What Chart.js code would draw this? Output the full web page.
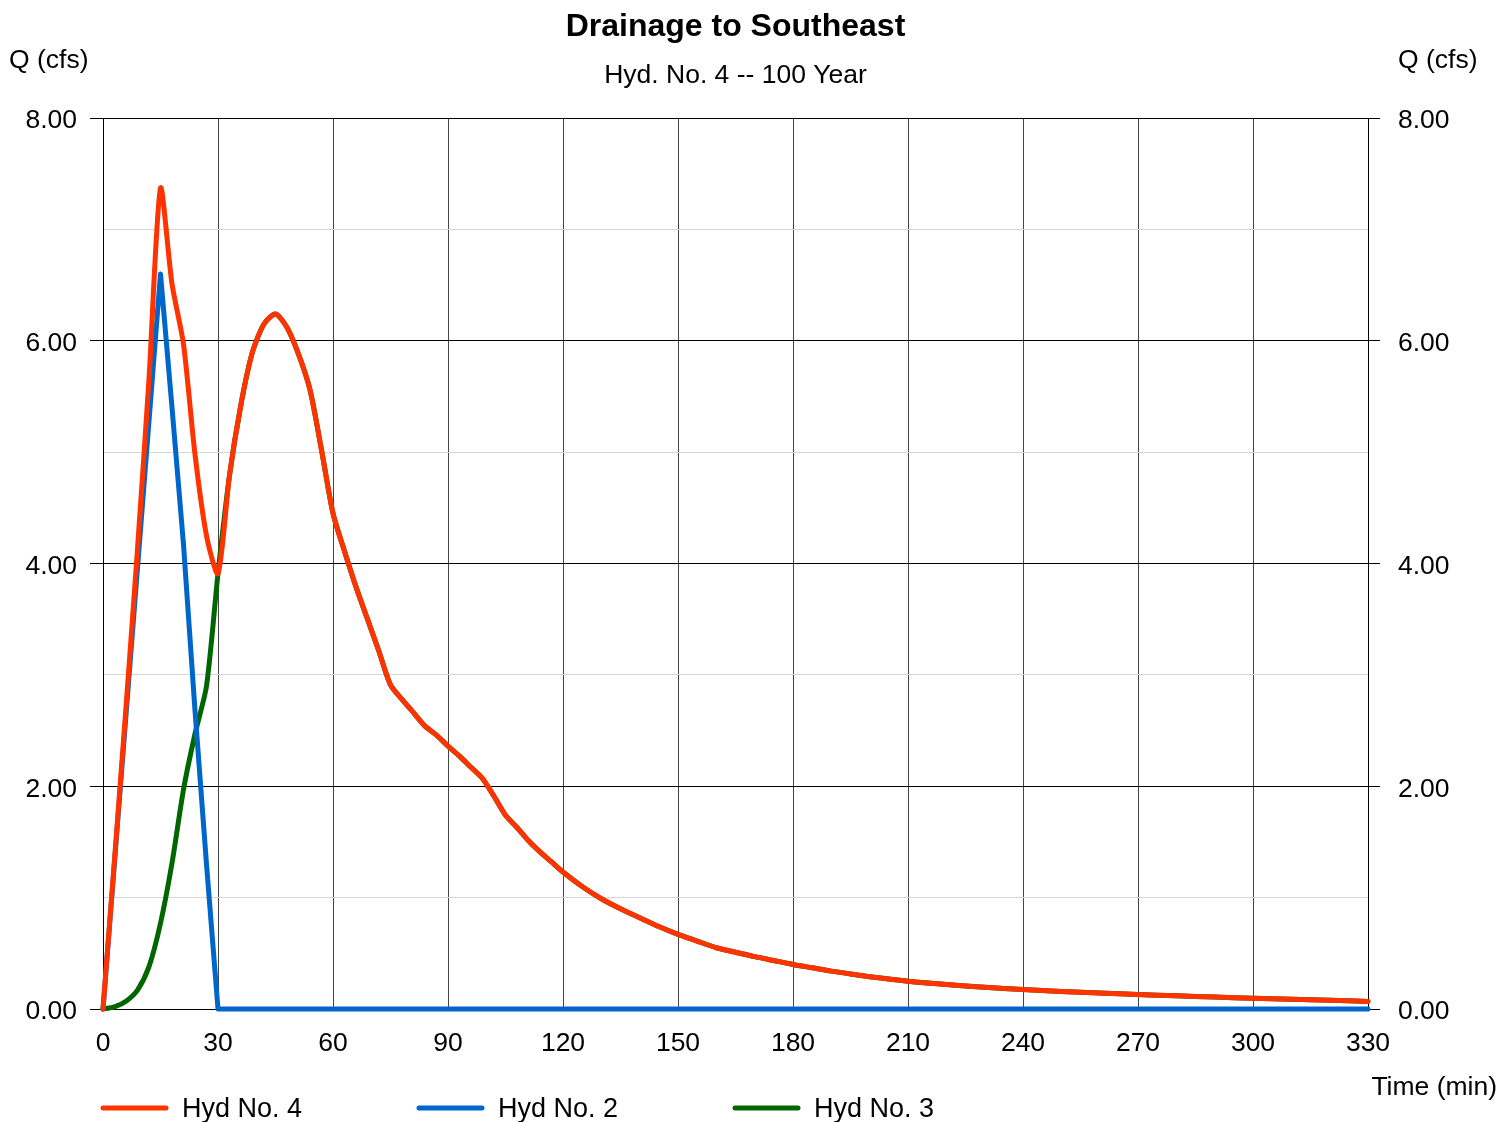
<!DOCTYPE html>
<html>
<head>
<meta charset="utf-8">
<title>Drainage to Southeast</title>
<script src="https://cdn.jsdelivr.net/npm/chart.js@4"></script>
<style>
  html, body { margin: 0; padding: 0; background: #fff; }
  #wrap { width: 1499px; height: 1122px; position: relative; }
</style>
</head>
<body>
<div id="wrap"><canvas id="chart"></canvas></div>
<script>
"use strict";

const chartTitle = "Drainage to Southeast";
const chartSubtitle = "Hyd. No. 4 -- 100 Year";
const yAxisTitle = "Q (cfs)";
const xAxisTitle = "Time (min)";

const seriesNames = ["Hyd No. 4", "Hyd No. 2", "Hyd No. 3"];
const seriesColors = ["#ff3300", "#0066cc", "#006600"];

// time (min)
const times = [
  0, 3, 6, 9, 12, 15, 18, 21, 24, 27, 30, 33, 36, 39, 42, 45, 48, 51, 54, 57,
  60, 63, 66, 69, 72, 75, 78, 81, 84, 87, 90, 93, 96, 99, 102, 105, 108, 111, 114, 117,
  120, 125, 130, 135, 140, 145, 150, 155, 160, 165, 170, 175, 180, 185, 190, 195, 200,
  210, 220, 230, 240, 250, 260, 270, 280, 290, 300, 310, 320, 330
];

// Q (cfs)
const hyd4 = [
  0, 1.34, 2.71, 4.13, 5.66, 7.37, 6.51, 5.97, 4.98, 4.25, 3.91, 4.79, 5.43, 5.90, 6.15, 6.24, 6.12, 5.88, 5.56, 5.02,
  4.45, 4.11, 3.79, 3.50, 3.21, 2.91, 2.78, 2.66, 2.54, 2.46, 2.36, 2.27, 2.17, 2.07, 1.91, 1.74, 1.63, 1.51, 1.41, 1.32,
  1.23, 1.10, 0.99, 0.90, 0.82, 0.74, 0.67, 0.61, 0.55, 0.51, 0.47, 0.435, 0.40, 0.37, 0.34, 0.315, 0.29,
  0.25, 0.22, 0.195, 0.175, 0.158, 0.143, 0.13, 0.118, 0.107, 0.097, 0.088, 0.078, 0.068
];

const hyd2 = [
  0, 1.32, 2.64, 3.96, 5.28, 6.60, 5.40, 4.17, 2.68, 1.30, 0, 0, 0, 0, 0, 0, 0, 0, 0, 0,
  0, 0, 0, 0, 0, 0, 0, 0, 0, 0, 0, 0, 0, 0, 0, 0, 0, 0, 0, 0,
  0, 0, 0, 0, 0, 0, 0, 0, 0, 0, 0, 0, 0, 0, 0, 0, 0,
  0, 0, 0, 0, 0, 0, 0, 0, 0, 0, 0, 0, 0
];

const hyd3 = [
  0, 0.02, 0.07, 0.17, 0.38, 0.77, 1.31, 1.97, 2.47, 2.90, 3.91, 4.79, 5.43, 5.90, 6.15, 6.24, 6.12, 5.88, 5.56, 5.02,
  4.45, 4.11, 3.79, 3.50, 3.21, 2.91, 2.78, 2.66, 2.54, 2.46, 2.36, 2.27, 2.17, 2.07, 1.91, 1.74, 1.63, 1.51, 1.41, 1.32,
  1.23, 1.10, 0.99, 0.90, 0.82, 0.74, 0.67, 0.61, 0.55, 0.51, 0.47, 0.435, 0.40, 0.37, 0.34, 0.315, 0.29,
  0.25, 0.22, 0.195, 0.175, 0.158, 0.143, 0.13, 0.118, 0.107, 0.097, 0.088, 0.078, 0.068
];

const FONT = "'Liberation Sans', Arial, sans-serif";

function toPoints(xs, ys) {
  return xs.map((x, i) => ({ x: x, y: ys[i] }));
}

function makeDataset(i, values, tension) {
  return {
    label: seriesNames[i],
    data: toPoints(times, values),
    borderColor: seriesColors[i],
    backgroundColor: seriesColors[i],
    borderWidth: 5,
    pointRadius: 0,
    tension: tension,
    borderCapStyle: "round",
    borderJoinStyle: "round",
    clip: false
  };
}

function isMajor(v) {
  return Math.round(v) % 2 === 0;
}

// titles, axis captions and the legend are painted by hand
const textPlugin = {
  id: "texts",
  afterDraw(chart) {
    const ctx = chart.ctx;
    const area = chart.chartArea;
    const mid = (area.left + area.right) / 2;
    ctx.save();
    ctx.fillStyle = "#000";
    ctx.textBaseline = "alphabetic";

    ctx.textAlign = "center";
    ctx.font = "bold 32px " + FONT;
    ctx.fillText(chartTitle, mid, 36);
    ctx.font = "26.5px " + FONT;
    ctx.fillText(chartSubtitle, mid, 83);

    ctx.textAlign = "left";
    ctx.fillText(yAxisTitle, 9, 68);
    ctx.fillText(yAxisTitle, 1398, 68);
    ctx.textAlign = "right";
    ctx.fillText(xAxisTitle, 1497, 1095);

    // legend
    ctx.textAlign = "left";
    ctx.font = "27px " + FONT;
    chart.data.datasets.forEach((ds, i) => {
      const x0 = 103 + i * 316;
      const y0 = 1108;
      ctx.strokeStyle = ds.borderColor;
      ctx.lineWidth = 5;
      ctx.lineCap = "round";
      ctx.beginPath();
      ctx.moveTo(x0, y0);
      ctx.lineTo(x0 + 63, y0);
      ctx.stroke();
      ctx.fillStyle = "#000";
      ctx.fillText(ds.label, x0 + 79, 1117);
    });
    ctx.restore();
  }
};

const yTicks = {
  stepSize: 1,
  autoSkip: false,
  color: "#000",
  labelOffset: 3,
  font: { family: FONT, size: 26.5 },
  callback: (v) => isMajor(v) ? v.toFixed(2) : ""
};

const config = {
  type: "line",
  data: {
    datasets: [makeDataset(0, hyd4, 0.25), makeDataset(1, hyd2, 0), makeDataset(2, hyd3, 0.25)]
  },
  options: {
    responsive: true,
    maintainAspectRatio: false,
    animation: false,
    layout: { padding: { top: 118, left: 0, right: 0, bottom: 0 } },
    plugins: {
      legend: { display: false },
      title: { display: false },
      tooltip: { enabled: false }
    },
    scales: {
      x: {
        type: "linear",
        min: 0,
        max: 330,
        ticks: {
          stepSize: 30,
          color: "#000",
          padding: 19,
          maxRotation: 0,
          font: { family: FONT, size: 26.5 }
        },
        grid: { color: "#444", lineWidth: 1, drawTicks: false },
        border: { color: "#000" },
        afterFit(scale) { scale.height = 113; }
      },
      y: {
        position: "left",
        min: 0,
        max: 8,
        ticks: Object.assign({ padding: 13 }, yTicks),
        grid: {
          color: (c) => isMajor(c.tick.value) ? "#000" : "#d6d6d6",
          tickColor: (c) => isMajor(c.tick.value) ? "#000" : "rgba(0,0,0,0)",
          tickLength: 13,
          lineWidth: 1
        },
        border: { color: "#000" },
        afterFit(scale) { scale.width = 103; }
      },
      y2: {
        position: "right",
        min: 0,
        max: 8,
        ticks: Object.assign({ padding: 18 }, yTicks),
        grid: {
          drawOnChartArea: false,
          tickColor: (c) => isMajor(c.tick.value) ? "#000" : "rgba(0,0,0,0)",
          tickLength: 12
        },
        border: { color: "#000" },
        afterFit(scale) { scale.width = 131; }
      }
    }
  },
  plugins: [textPlugin]
};

new Chart(document.getElementById("chart").getContext("2d"), config);
</script>
</body>
</html>
